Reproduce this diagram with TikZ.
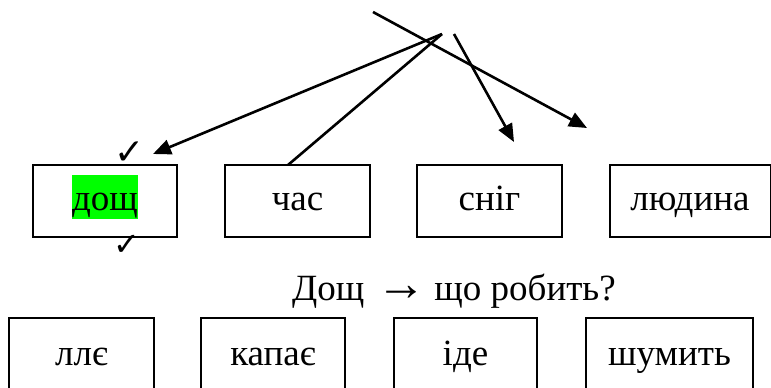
\documentclass[tikz,border=0pt]{standalone}
\usepackage{fontspec}
\setmainfont{Liberation Serif}
\newfontfamily\symfont{DejaVu Sans}
\usetikzlibrary{arrows.meta}
\definecolor{hilite}{RGB}{0,255,0}
\tikzset{%
  wordbox/.style   = {shape=rectangle, draw, line width=2pt,%
                      minimum height=72pt, inner sep=0pt,%
                      text height=26pt, text depth=8pt},%
  lowbox/.style    = {wordbox, minimum height=76pt},%
  checkmark/.style = {font=\symfont\fontsize{36}{36}\selectfont, inner sep=0pt},%
  link/.style      = {line width=2.6pt},%
  pointer/.style   = {link, -{Triangle[length=18pt,width=15pt]}}%
}
\begin{document}
\begin{tikzpicture}[x=1pt,y=-1pt,
	every node/.style={font=\fontsize{37}{44}\selectfont}]%
	\useasboundingbox (0,0) rectangle (771,388);%
	\clip (0,0) rectangle (771,388);%
	% nouns
	\node[wordbox, minimum width=144pt] (dosch) at (105,201)%
		{\setlength\fboxsep{0pt}\colorbox{hilite}{\rule[-9pt]{0pt}{44pt}дощ}};%
	\node[wordbox, minimum width=145pt] (chas) at (297.5,201) {час};%
	\node[wordbox, minimum width=145pt] (snih) at (489.5,201) {сніг};%
	\node[wordbox, minimum width=161pt] (liudyna) at (690,201) {людина};%
	% question
	\node[anchor=base west, inner sep=0pt] (question) at (292,300)%
		{Дощ\hspace{12pt}{\fontsize{50}{44}\selectfont →}\hspace{8pt}що робить?};%
	% verbs
	\node[lowbox, minimum width=145pt] (llie) at (81.5,356) {ллє};%
	\node[lowbox, minimum width=144pt] (kapaie) at (273,356) {капає};%
	\node[lowbox, minimum width=143pt] (ide) at (465.5,356) {іде};%
	\node[lowbox, minimum width=167pt] (shumyt) at (669.5,356) {шумить};%
	% marks
	\node[checkmark] (tickup) at (130,153) {✓};%
	\node[checkmark, font=\symfont\fontsize{32}{32}\selectfont] (tickdown) at (127,245) {✓};%
	% arrows
	\coordinate (fan) at (442,34);%
	\coordinate (startA) at (373,12);%
	\coordinate (startB) at (454,34);%
	\coordinate (endA) at (587,128);%
	\coordinate (endB) at (514,142);%
	\coordinate (endC) at (153,154);%
	\coordinate (endD) at (288,165);%
	\draw[pointer] (startA) -- (endA);%
	\draw[pointer] (startB) -- (endB);%
	\draw[pointer] (fan) -- (endC);%
	\draw[link] (fan) -- (endD);%
\end{tikzpicture}
\end{document}
